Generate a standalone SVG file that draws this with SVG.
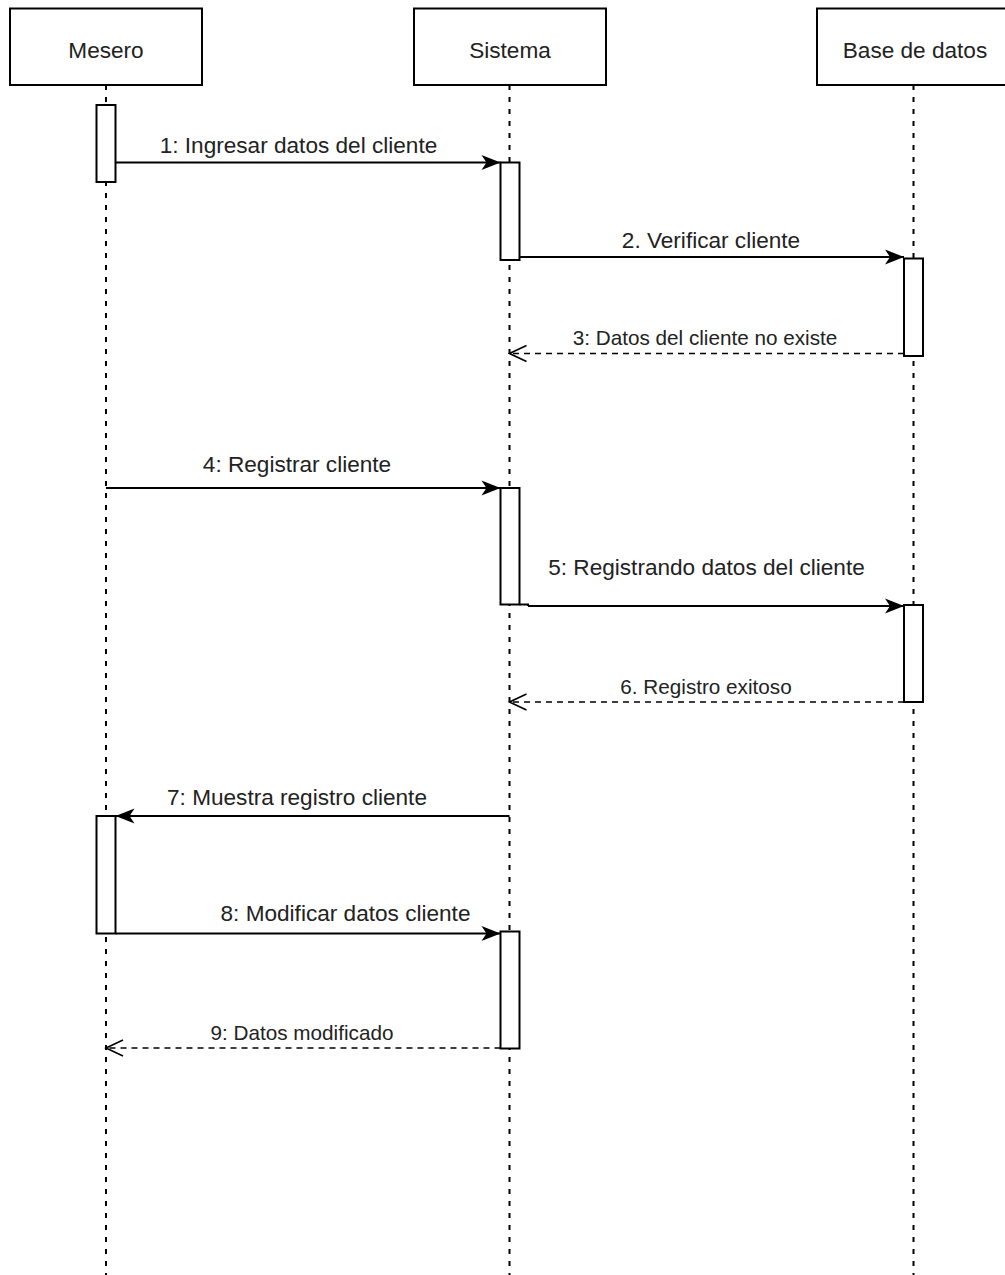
<svg xmlns="http://www.w3.org/2000/svg" width="1005" height="1275" viewBox="0 0 1005 1275">
  <style>
    .actor { fill: #ffffff; stroke: #000000; stroke-width: 2; }
    .actor-label { font-family: "Liberation Sans", Arial, sans-serif; font-size: 22.6px; fill: #222222; text-anchor: middle; }
    .lifeline { stroke: #000000; stroke-width: 2; stroke-dasharray: 5 7; fill: none; }
    .activation { fill: #ffffff; stroke: #000000; stroke-width: 2; }
    .msg { stroke: #000000; stroke-width: 2; fill: none; marker-end: url(#arrow-filled); }
    .reply { stroke: #000000; stroke-width: 1.6; fill: none; stroke-dasharray: 6 5; marker-end: url(#arrow-open); }
    .msg-label { font-family: "Liberation Sans", Arial, sans-serif; font-size: 22.6px; fill: #222222; text-anchor: middle; }
    .reply-label { font-family: "Liberation Sans", Arial, sans-serif; font-size: 20.7px; fill: #222222; text-anchor: middle; }
  </style>
  <defs>
    <marker id="arrow-filled" markerUnits="userSpaceOnUse" markerWidth="20" markerHeight="16" refX="0" refY="0" orient="auto" overflow="visible">
      <path d="M-19,-7.5 L0,0 L-19,7.5 L-14,0 Z" fill="#000000" stroke="none"/>
    </marker>
    <marker id="arrow-open" markerUnits="userSpaceOnUse" markerWidth="20" markerHeight="18" refX="0" refY="0" orient="auto" overflow="visible">
      <path d="M-17,-8 L0,0 L-17,8" fill="none" stroke="#000000" stroke-width="1.6"/>
    </marker>
  </defs>

  <rect width="1005" height="1275" fill="#ffffff"/>

  <!-- lifelines -->
  <g id="lifelines">
    <line class="lifeline" x1="106" y1="85" x2="106" y2="1275"/>
    <line class="lifeline" x1="509.5" y1="85" x2="509.5" y2="1275"/>
    <line class="lifeline" x1="913.5" y1="85" x2="913.5" y2="1275"/>
  </g>

  <!-- participants with their activation bars -->
  <g id="mesero">
    <rect class="actor" x="10" y="8.5" width="192" height="76.5"/>
    <text class="actor-label" x="106" y="58">Mesero</text>
    <rect class="activation" x="96.5" y="105" width="19" height="77"/>
    <rect class="activation" x="96.5" y="816" width="19" height="117.5"/>
  </g>

  <g id="sistema">
    <rect class="actor" x="414" y="8.5" width="192" height="76.5"/>
    <text class="actor-label" x="510" y="58">Sistema</text>
    <rect class="activation" x="500.5" y="162.5" width="19" height="97.5"/>
    <rect class="activation" x="500.5" y="488" width="19" height="116.5"/>
    <rect class="activation" x="500.5" y="931.5" width="19" height="117"/>
  </g>

  <g id="base-de-datos">
    <rect class="actor" x="817" y="8.5" width="192" height="76.5"/>
    <text class="actor-label" x="915" y="58">Base de datos</text>
    <rect class="activation" x="904" y="258.5" width="19" height="97.5"/>
    <rect class="activation" x="904" y="605" width="19" height="97"/>
  </g>

  <!-- messages -->
  <g id="connectors">
    <line class="msg" x1="115.5" y1="162.5" x2="500.5" y2="162.5"/>
    <text class="msg-label" x="298.5" y="153">1: Ingresar datos del cliente</text>

    <line class="msg" x1="519.5" y1="257" x2="904" y2="257"/>
    <text class="msg-label" x="711" y="248">2. Verificar cliente</text>

    <line class="reply" x1="904" y1="353.5" x2="509.5" y2="353.5"/>
    <text class="reply-label" x="705" y="345">3: Datos del cliente no existe</text>

    <line class="msg" x1="106" y1="488" x2="500.5" y2="488"/>
    <text class="msg-label" x="297" y="471.5">4: Registrar cliente</text>

    <path d="M519.5,604.5 H528 V606" fill="none" stroke="#000000" stroke-width="2"/>
    <line class="msg" x1="528" y1="606" x2="904" y2="606"/>
    <text class="msg-label" x="706.5" y="575">5: Registrando datos del cliente</text>

    <line class="reply" x1="904" y1="702" x2="509.5" y2="702"/>
    <text class="reply-label" x="706" y="694">6. Registro exitoso</text>

    <line class="msg" x1="509.5" y1="816" x2="115.5" y2="816"/>
    <text class="msg-label" x="297" y="805">7: Muestra registro cliente</text>

    <line class="msg" x1="115.5" y1="933.5" x2="500.5" y2="933.5"/>
    <text class="msg-label" x="345.5" y="921">8: Modificar datos cliente</text>

    <line class="reply" x1="500.5" y1="1048" x2="106" y2="1048"/>
    <text class="reply-label" x="302" y="1040">9: Datos modificado</text>
  </g>
</svg>
